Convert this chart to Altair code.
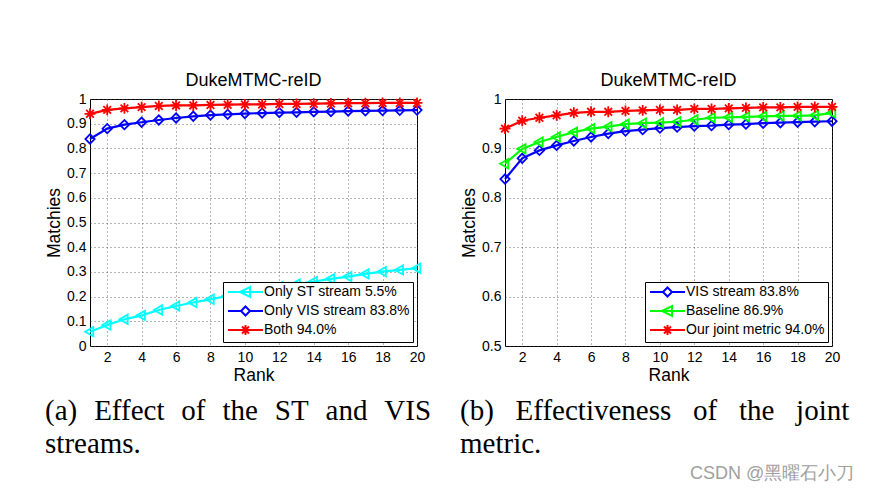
import altair as alt
import pandas as pd

ranks = list(range(1, 21))

# Panel (a)
a_series = ["Only ST stream 5.5%", "Only VIS stream 83.8%", "Both 94.0%"]
a_st = [0.058, 0.085, 0.108, 0.124, 0.146, 0.162, 0.176, 0.189, 0.203, 0.214,
        0.227, 0.240, 0.251, 0.261, 0.272, 0.281, 0.292, 0.301, 0.308, 0.315]
a_vis = [0.838, 0.880, 0.896, 0.906, 0.915, 0.923, 0.930, 0.935, 0.938, 0.941,
         0.943, 0.945, 0.946, 0.948, 0.949, 0.951, 0.952, 0.953, 0.954, 0.955]
a_both = [0.940, 0.956, 0.962, 0.967, 0.972, 0.974, 0.974, 0.976, 0.977, 0.978,
          0.978, 0.980, 0.980, 0.981, 0.982, 0.983, 0.983, 0.984, 0.984, 0.984]

# Panel (b)
b_series = ["VIS stream 83.8%", "Baseline 86.9%", "Our joint metric 94.0%"]
b_vis = a_vis
b_base = [0.869, 0.899, 0.913, 0.923, 0.933, 0.940, 0.944, 0.949, 0.951, 0.952,
          0.954, 0.958, 0.962, 0.963, 0.964, 0.965, 0.966, 0.966, 0.967, 0.972]
b_joint = a_both

title_text = "DukeMTMC-reID"
x_title = "Rank"
y_title = "Matchies"
GA = "\u00a0\u00a0\u200a"
GB = "\u00a0\u00a0\u00a0"
caption_a = [GA.join(["(a)", "Effect", "of", "the", "ST", "and", "VIS"]), "streams."]
caption_b = [GB.join(["(b)", "Effectiveness", "of", "the", "joint"]), "metric."]
watermark = "CSDN @黑曜石小刀"

ASTER = "M-1,0H1M0,-1V1M-0.7,-0.7L0.7,0.7M-0.7,0.7L0.7,-0.7"
TRI = "M-0.9,0L0.6,-0.85L0.6,0.85Z"
DIAM = "M-0.85,0L0,-0.85L0.85,0L0,0.85Z"

LEG_TRI = "M-1,0H6M1.4,0L3.4,-1L3.4,1Z"
LEG_DIAM = "M-1,0H1.6M3.4,0H6M1.6,0L2.5,-0.9L3.4,0L2.5,0.9Z"
LEG_ASTER = "M-1,0H6M1.5,0H3.5M2.5,-1V1M1.8,-0.7L3.2,0.7M1.8,0.7L3.2,-0.7"


def make_df(series, arrays):
    rows = []
    for s, arr in zip(series, arrays):
        for r, v in zip(ranks, arr):
            rows.append({"rank": r, "value": v, "series": s})
    return pd.DataFrame(rows)


def panel(df, series, colors, shapes, leg_shapes, ydom, yvals):
    x = alt.X("rank:Q", scale=alt.Scale(domain=[1, 20], nice=False, zero=False),
              axis=alt.Axis(values=list(range(2, 21, 2)), title=x_title, labelFlush=False))
    y = alt.Y("value:Q", scale=alt.Scale(domain=ydom, nice=False, zero=False),
              axis=alt.Axis(values=yvals, format=".1~f", title=y_title, titlePadding=3))
    base = alt.Chart(df).encode(x=x, y=y)
    lines = base.mark_line(strokeWidth=2.2).encode(
        color=alt.Color("series:N", scale=alt.Scale(domain=series, range=colors), legend=None),
        detail="series:N")
    pts = base.mark_point(filled=False, strokeWidth=1.8, size=120, opacity=1).encode(
        color=alt.Color("series:N", scale=alt.Scale(domain=series, range=colors), legend=None),
        shape=alt.Shape("series:N", scale=alt.Scale(domain=series, range=shapes), legend=None))
    leg = alt.Legend(title=None, orient="bottom-right", offset=4, strokeColor="black",
                     fillColor="white", padding=3, symbolSize=100, symbolStrokeWidth=2,
                     labelFontSize=14, labelFont="Liberation Sans", labelOffset=24,
                     rowPadding=1, symbolOpacity=1, labelLimit=400)
    legend_layer = base.mark_point(filled=False, opacity=1, strokeWidth=2).transform_filter("false").encode(
        color=alt.Color("series:N", scale=alt.Scale(domain=series, range=colors), legend=leg),
        shape=alt.Shape("series:N", scale=alt.Scale(domain=series, range=leg_shapes), legend=leg))
    return alt.layer(lines, pts, legend_layer).resolve_scale(
        color="independent", shape="independent").properties(
        width=327, height=247,
        title=alt.TitleParams(title_text, fontSize=18, fontWeight="normal",
                              font="Liberation Sans", offset=2))


df_a = make_df(a_series, [a_st, a_vis, a_both])
df_b = make_df(b_series, [b_vis, b_base, b_joint])

pa = panel(df_a, a_series, ["#00ffff", "#0000ff", "#ff0000"],
           [TRI, DIAM, ASTER], [LEG_TRI, LEG_DIAM, LEG_ASTER],
           [0, 1], [round(i * 0.1, 1) for i in range(11)])
pb = panel(df_b, b_series, ["#0000ff", "#00ff00", "#ff0000"],
           [DIAM, TRI, ASTER], [LEG_DIAM, LEG_TRI, LEG_ASTER],
           [0.5, 1], [0.5, 0.6, 0.7, 0.8, 0.9, 1.0])


def cap(text):
    return alt.TitleParams(text, orient="bottom", anchor="start", font="Liberation Serif",
                           fontSize=29, fontWeight="normal", lineHeight=33, offset=13,
                           color="black")


va = alt.vconcat(pa, title=cap(caption_a))
vb = alt.vconcat(pb, title=cap(caption_b))

chart = alt.hconcat(va, vb, spacing=28).properties(
    padding={"left": 37, "top": 63, "right": 3, "bottom": 0},
    title=alt.TitleParams(watermark, orient="bottom", anchor="end", fontSize=18,
                          fontWeight="normal", color="#a0a0a0", font="Liberation Sans",
                          offset=6, dx=5)
).configure(font="Liberation Sans").configure_view(
    stroke="black", strokeWidth=1
).configure_axis(
    domain=False, ticks=False, grid=True, gridDash=[1, 3], gridColor="#444",
    gridWidth=0.8, labelFontSize=14, labelColor="black", titleFontSize=17.5,
    titleFontWeight="normal", titleColor="black", labelPadding=4, titlePadding=5,
    labelFont="Liberation Sans", titleFont="Liberation Sans"
).configure_axisX(titlePadding=2)

chart.save("out.html", embed_options={"renderer": "svg", "actions": False})
